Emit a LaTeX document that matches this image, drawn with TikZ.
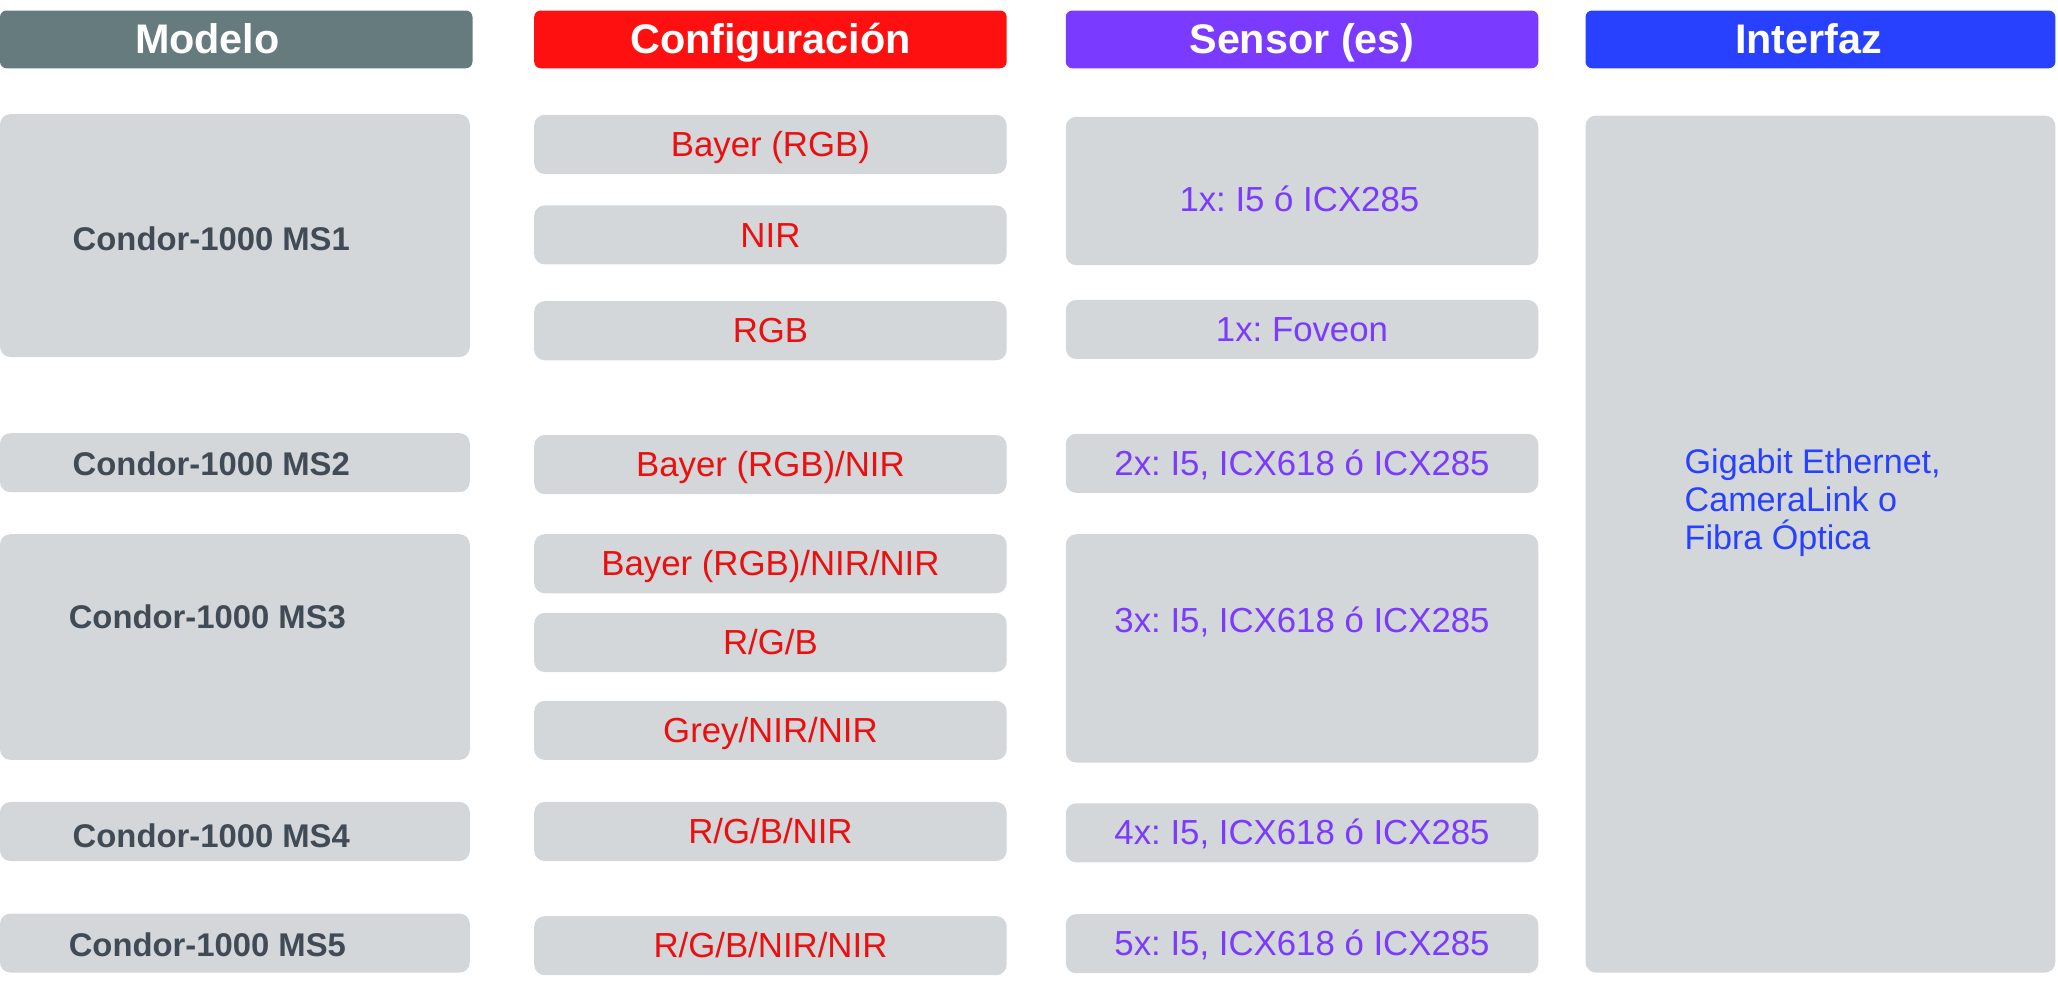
\documentclass[tikz,border=0pt]{standalone}
\usepackage{fontspec}
\setmainfont{Liberation Sans}
\usepackage{tikz}
\frenchspacing
\definecolor{modelgrey}{RGB}{102,123,125}
\definecolor{confred}{RGB}{255,16,16}
\definecolor{sensorviolet}{RGB}{122,58,255}
\definecolor{ifaceblue}{RGB}{40,64,255}
\definecolor{cellgrey}{RGB}{211,215,218}
\definecolor{modeltext}{RGB}{65,75,85}

\tikzset{
  head/.style={rectangle, rounded corners=5pt, minimum width=360pt, minimum height=44pt},
  headtext/.style={text=white, font=\fontsize{31.5}{34}\selectfont\bfseries, text height=22pt, text depth=0pt},
  cell/.style={rectangle, rounded corners=8pt, fill=cellgrey, minimum width=360pt, minimum height=45pt,
    font=\fontsize{26.5}{29}\selectfont, text height=18.5pt, text depth=0pt},
  modellabel/.style={text=modeltext, font=\fontsize{25}{29}\selectfont\bfseries, text height=18pt, text depth=0pt},
  conf/.style={cell, text=confred!92!black},
  sens/.style={cell, text=sensorviolet},
  senstext/.style={text=sensorviolet, font=\fontsize{26.5}{29}\selectfont, text height=18.5pt, text depth=0pt}
}

\begin{document}
\begin{tikzpicture}[x=1pt, y=-1pt]
\useasboundingbox (0,0) rectangle (1568,747);
% headers
\node[head, fill=modelgrey] (modelo) at (180,30) {};
\node[headtext] (modelotxt) at (158,30) {Modelo};
\node[head, fill=confred, headtext] (config) at (587,30) {Configuración};
\node[head, fill=sensorviolet, headtext] (sensor) at (992,30) {Sensor (es)};
\node[head, fill=ifaceblue, minimum width=358pt] (interfaz) at (1387,30) {};
\node[headtext] (interfaztxt) at (1378,30) {Interfaz};

% modelo
\node[cell, minimum width=358pt, minimum height=185pt] (ms1) at (179,179.5) {};
\node[cell, minimum width=358pt] (ms2) at (179,352.5) {};
\node[cell, minimum width=358pt, minimum height=172pt] (ms3) at (179,493) {};
\node[cell, minimum width=358pt] (ms4) at (179,633.5) {};
\node[cell, minimum width=358pt] (ms5) at (179,718.5) {};
\node[modellabel] (ms1txt) at (161,182) {Condor-1000 MS1};
\node[modellabel] (ms2txt) at (161,353) {Condor-1000 MS2};
\node[modellabel] (ms3txt) at (158,470) {Condor-1000 MS3};
\node[modellabel] (ms4txt) at (161,637) {Condor-1000 MS4};
\node[modellabel] (ms5txt) at (158,720) {Condor-1000 MS5};

% configuracion
\node[conf] (bayer) at (587,110) {Bayer (RGB)};
\node[conf] (nir) at (587,179) {NIR};
\node[conf] (rgb) at (587,252) {RGB};
\node[conf] (bayernir) at (587,354) {Bayer (RGB)/NIR};
\node[conf] (bayernirnir) at (587,429.5) {Bayer (RGB)/NIR/NIR};
\node[conf] (rgbsep) at (587,489.5) {R/G/B};
\node[conf] (grey) at (587,556.5) {Grey/NIR/NIR};
\node[conf] (rgbnir) at (587,633.5) {R/G/B/NIR};
\node[conf] (rgbnirnir) at (587,720.5) {R/G/B/NIR/NIR};

% sensores
\node[sens, minimum height=113pt] (sens1) at (992,145.5) {};
\node[senstext] (sens1txt) at (990,152) {1x: I5 ó ICX285};
\node[sens] (foveon) at (992,251) {1x: Foveon};
\node[sens] (sens2) at (992,353) {2x: I5, ICX618 ó ICX285};
\node[sens, minimum height=174pt] (sens3) at (992,494) {};
\node[senstext] (sens3txt) at (992,473) {3x: I5, ICX618 ó ICX285};
\node[sens] (sens4) at (992,634.5) {4x: I5, ICX618 ó ICX285};
\node[sens] (sens5) at (992,719) {5x: I5, ICX618 ó ICX285};

% interfaz
\node[cell, minimum width=358pt, minimum height=653pt] (iface) at (1387,414.5) {};
\node[anchor=west, align=left, text=ifaceblue, font=\fontsize{26}{29}\selectfont] (ifacetxt) at (1280,383)
  {Gigabit Ethernet,\\CameraLink o\\Fibra Óptica};
\end{tikzpicture}
\end{document}
